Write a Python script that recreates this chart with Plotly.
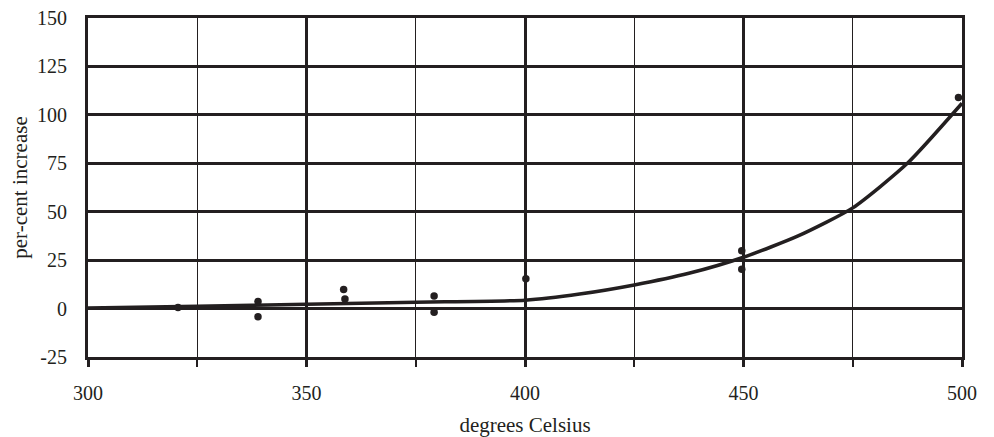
import plotly.graph_objects as go

# measured points
temp_points = [320.6, 338.9, 338.9, 358.5, 358.8, 379.2, 379.2, 400.2, 449.6, 449.6, 499.2]
pct_points = [0.5, 3.6, -4.2, 9.8, 5.0, 6.5, -1.9, 15.4, 29.9, 20.3, 108.9]

# fitted curve
curve_temp = [300, 325, 350, 375, 400, 412.5, 425, 437.5, 450, 462.5, 475, 487.5, 500]
curve_pct = [0.3, 1.2, 2.2, 3.3, 4.3, 7.5, 12.2, 18.2, 26.5, 37.5, 52.0, 75.0, 106.0]

x_ticks = [300, 350, 400, 450, 500]
y_ticks = [-25, 0, 25, 50, 75, 100, 125, 150]

ink = "#231f20"
font_family = "Liberation Serif"

fig = go.Figure()
fig.add_trace(go.Scatter(
    x=curve_temp, y=curve_pct, mode="lines",
    line=dict(color=ink, width=3.5, shape="spline", smoothing=0.6),
    hoverinfo="skip", showlegend=False,
))
fig.add_trace(go.Scatter(
    x=temp_points, y=pct_points, mode="markers",
    marker=dict(color=ink, size=7.5),
    showlegend=False,
))

fig.update_layout(
    width=978, height=429,
    margin=dict(l=80, r=24, t=10, b=80, autoexpand=False),
    paper_bgcolor="white", plot_bgcolor="white",
    font=dict(family=font_family, size=20, color=ink),
    xaxis=dict(
        range=[300, 500], tickvals=x_ticks, ticktext=[str(v) for v in x_ticks],
        showgrid=True, gridcolor=ink, gridwidth=2.5,
        showline=True, linecolor=ink, linewidth=3, mirror=True,
        ticks="outside", ticklen=7, tickwidth=2.5, tickcolor=ink,
        ticklabelstandoff=9, ticklabeloverflow="allow",
        minor=dict(dtick=25, tick0=300, showgrid=True, gridcolor=ink, gridwidth=1.3,
                   ticks="outside", ticklen=7, tickwidth=1.5, tickcolor=ink),
        zeroline=False, automargin=True,
        title=dict(text="degrees Celsius", font=dict(size=21), standoff=18),
    ),
    yaxis=dict(
        range=[-25, 150], tickvals=y_ticks, ticktext=[str(v) for v in y_ticks],
        showgrid=True, gridcolor=ink, gridwidth=2.5,
        showline=True, linecolor=ink, linewidth=3, mirror=True,
        ticks="", ticklabelstandoff=14, ticklabeloverflow="allow",
        zeroline=False, automargin=False,
        title=dict(text="per-cent increase", font=dict(size=21), standoff=12),
    ),
)

fig.write_html("out.html")
